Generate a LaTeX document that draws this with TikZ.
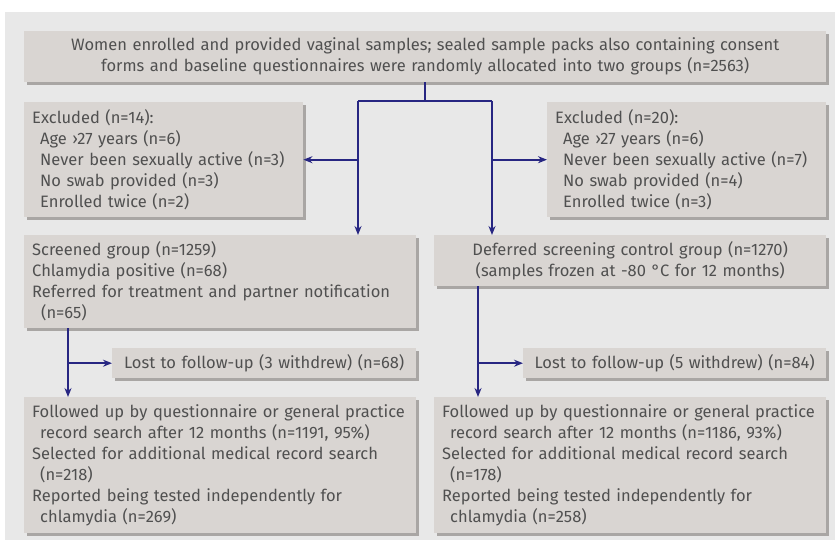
\documentclass[tikz,border=0pt]{standalone}
\usepackage{fontspec}
\setmainfont{Fira Sans}
\usepackage{tikz}
\usetikzlibrary{arrows.meta,shadows}
\definecolor{bggray}{HTML}{E8E8E8}
\definecolor{boxgray}{HTML}{D9D5D2}
\definecolor{shadowgray}{HTML}{A9A6A4}
\definecolor{txtgray}{HTML}{505050}
\definecolor{navy}{HTML}{272682}
\hyphenpenalty=10000

\begin{document}
\begin{tikzpicture}[x=1pt,y=-1pt,
	box/.style={anchor=north west,fill=boxgray,text=txtgray,inner xsep=8pt,inner ysep=0pt,
		font=\fontsize{16.5}{21}\selectfont,
		drop shadow={shadow xshift=3pt,shadow yshift=-3pt,fill=shadowgray,opacity=1}},
	link/.style={draw=navy,line width=1.6pt},
	arr/.style={link,-{Stealth[length=9pt,width=7pt]}}]
    \useasboundingbox (0,0) rectangle (835,543);
    \fill[bggray] (5,12) rectangle (835,540);

    % enrolment and exclusions
    \node[box,align=center,text width=786pt,minimum height=51pt] (enrol) at (24,31)
      {Women enrolled and provided vaginal samples; sealed sample packs also containing consent\\
       forms and baseline questionnaires were randomly allocated into two groups (n=2563)};
    \node[box,align=left,text width=263pt,minimum height=115pt] (exclA) at (24,102)
      {Excluded (n=14):\\
       \hspace*{8pt}Age ›27 years (n=6)\\
       \hspace*{8pt}Never been sexually active (n=3)\\
       \hspace*{8pt}No swab provided (n=3)\\
       \hspace*{8pt}Enrolled twice (n=2)};
    \node[box,align=left,text width=263pt,minimum height=115pt] (exclB) at (547,102)
      {Excluded (n=20):\\
       \hspace*{8pt}Age ›27 years (n=6)\\
       \hspace*{8pt}Never been sexually active (n=7)\\
       \hspace*{8pt}No swab provided (n=4)\\
       \hspace*{8pt}Enrolled twice (n=3)};

    % the two arms
    \node[box,align=left,text width=376pt,minimum height=93pt] (screen) at (24,235)
      {Screened group (n=1259)\\
       Chlamydia positive (n=68)\\
       Referred for treatment and partner notification\\
       \hspace*{9pt}(n=65)};
    \node[box,align=center,text width=376pt,minimum height=51pt] (defer) at (434,235)
      {Deferred screening control group (n=1270)\\
       (samples frozen at -80 °C for 12 months)};

    \node[box,align=center,inner xsep=5pt,text width=294pt,minimum height=30pt] (lostA) at (112,348)
      {Lost to follow-up (3 withdrew) (n=68)};
    \node[box,align=center,inner xsep=5pt,text width=293pt,minimum height=30pt] (lostB) at (523,348)
      {Lost to follow-up (5 withdrew) (n=84)};

    % follow up
    \node[box,align=left,text width=376pt,minimum height=136pt] (followA) at (24,397)
      {Followed up by questionnaire or general practice\\
       \hspace*{8pt}record search after 12 months (n=1191, 95\%)\\
       Selected for additional medical record search\\
       \hspace*{8pt}(n=218)\\
       Reported being tested independently for\\
       \hspace*{8pt}chlamydia (n=269)};
    \node[box,align=left,text width=376pt,minimum height=136pt] (followB) at (434,397)
      {Followed up by questionnaire or general practice\\
       \hspace*{8pt}record search after 12 months (n=1186, 93\%)\\
       Selected for additional medical record search\\
       \hspace*{8pt}(n=178)\\
       Reported being tested independently for\\
       \hspace*{8pt}chlamydia (n=258)};

    % connectors
    \coordinate (split) at (425,101);
    \coordinate (splitA) at (358,101);
    \coordinate (splitB) at (492,101);
    \draw[link] (enrol.south -| split) -- (split);
    \draw[link] (splitA) -- (splitB);
    \draw[arr] (splitA) -- (splitA |- screen.north);
    \draw[arr] (splitB) -- (splitB |- defer.north);
    \draw[arr] (splitA |- exclA.east) -- (exclA.east);
    \draw[arr] (splitB |- exclB.west) -- (exclB.west);

    \coordinate (armA) at (68,0);
    \coordinate (armB) at (478,0);
    \draw[arr] (armA |- screen.south) -- (armA |- followA.north);
    \draw[arr] (armB |- defer.south) -- (armB |- followB.north);
    \draw[arr] (armA |- lostA.west) -- (lostA.west);
    \draw[arr] (armB |- lostB.west) -- (lostB.west);
\end{tikzpicture}
\end{document}
